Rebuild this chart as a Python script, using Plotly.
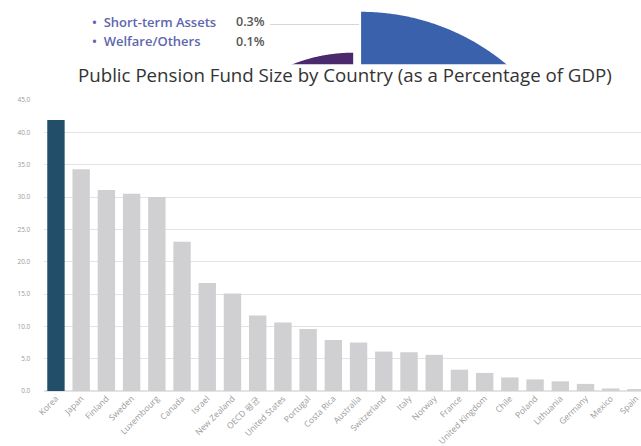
import numpy as np
import plotly.graph_objects as go

# ---------------- data ----------------
countries = ["Korea", "Japan", "Finland", "Sweden", "Luxembourg", "Canada", "Israel",
             "New Zealand", "OECD 평균", "United States", "Portugal", "Costa Rica",
             "Australia", "Switzerland", "Italy", "Norway", "France", "United Kingdom",
             "Chile", "Poland", "Lithuania", "Germany", "Mexico", "Spain"]
fund_pct_gdp = [41.9, 34.3, 31.1, 30.5, 30.0, 23.1, 16.7, 15.1, 11.7, 10.6, 9.6, 7.9,
                7.5, 6.1, 6.0, 5.6, 3.3, 2.8, 2.1, 1.8, 1.5, 1.1, 0.4, 0.2]
highlight_country = "Korea"

y_ticks = [0, 5, 10, 15, 20, 25, 30, 35, 40, 45]

legend_labels = ["Short-term Assets", "Welfare/Others"]
legend_values = ["0.3%", "0.1%"]

# fragment of the asset-allocation pie (only its top edge is visible)
pie_slice_shares = [0.30, 0.15]          # blue (clockwise from 12 o'clock), purple (counter-clockwise)
pie_slice_colors = ["#3A61AC", "#4A2A6C"]

title_text = "Public Pension Fund Size by Country (as a Percentage of GDP)"

# ---------------- layout helpers ----------------
W, H = 641, 446
def px_x(x):
    return x / W
def px_y(y):
    return 1 - y / H

plot_left, plot_top, plot_bottom = 37, 97.7, 396.7
pie_cut = 61

bar_colors = ["#234E69" if c == highlight_country else "#D0D0D2" for c in countries]

fig = go.Figure()
fig.add_trace(go.Bar(x=countries, y=fund_pct_gdp, marker_color=bar_colors,
                     marker_line_width=0, width=0.69, showlegend=False,
                     xaxis="x", yaxis="y"))

# pie fragment drawn as sectors in a pixel-scaled helper subplot
def sector(cx, cy, r, a0, a1, n=300):
    a = np.radians(np.linspace(a0, a1, n))
    xs = np.concatenate([[cx], cx + r * np.cos(a), [cx]])
    ys = np.concatenate([[cy], cy - r * np.sin(a), [cy]])
    return xs, ys

pie_geom = [(358, 234, 227, 90, 90 - 360 * pie_slice_shares[0]),
            (350, 213, 164, 90, 90 + 360 * pie_slice_shares[1])]
for (cx, cy, r, a0, a1), col in zip(pie_geom, pie_slice_colors):
    xs, ys = sector(cx, cy, r, a0, a1)
    fig.add_trace(go.Scatter(x=xs, y=ys, fill="toself", fillcolor=col, mode="none",
                             hoverinfo="skip", showlegend=False, xaxis="x2", yaxis="y2"))

fig.update_layout(
    width=W, height=H,
    margin=dict(l=0, r=0, t=0, b=0),
    paper_bgcolor="white", plot_bgcolor="white",
    xaxis=dict(domain=[px_x(plot_left), 1], range=[-0.49, 23.2],
               tickangle=-45, tickfont=dict(family="Open Sans", size=8.5, color="#9A9A9A"),
               showgrid=False, zeroline=False, showline=False, ticks="", anchor="y"),
    yaxis=dict(domain=[px_y(plot_bottom), px_y(plot_top)], range=[0, 45],
               tickvals=y_ticks, tickformat=".1f",
               tickfont=dict(family="Open Sans", size=6.5, color="#9A9A9A"),
               ticks="outside", ticklen=11, tickcolor="rgba(0,0,0,0)",
               showgrid=True, gridcolor="#E3E3E3", gridwidth=1,
               zeroline=True, zerolinecolor="#E3E3E3", showline=False, anchor="x"),
    xaxis2=dict(domain=[0, 1], range=[0, W], visible=False, anchor="y2", fixedrange=True),
    yaxis2=dict(domain=[px_y(pie_cut), 1], range=[pie_cut, 0], visible=False, anchor="x2",
                fixedrange=True),
    showlegend=False,
)

# leader line from the legend value to the pie
fig.add_shape(type="line", xref="x2", yref="y2", x0=266, x1=356, y0=20, y1=20,
              line=dict(color="#D6D6D6", width=1))

for i, (lab, val) in enumerate(zip(legend_labels, legend_values)):
    yy = 17 + 20 * i
    fig.add_annotation(x=px_x(84), y=px_y(yy), xref="paper", yref="paper",
                       text="\u2022  " + lab, showarrow=False, xanchor="left", yanchor="middle",
                       font=dict(family="Open Sans", size=13, color="#6066AE", weight=600))
    fig.add_annotation(x=px_x(263), y=px_y(yy), xref="paper", yref="paper",
                       text=val, showarrow=False, xanchor="right", yanchor="middle",
                       font=dict(family="Open Sans", size=12.5, color="#555555", weight=600))

fig.add_annotation(x=px_x(342), y=px_y(71), xref="paper", yref="paper",
                   text=title_text, showarrow=False, xanchor="center", yanchor="middle",
                   font=dict(family="Open Sans", size=18.7, color="#333333"))

fig.write_html("out.html")
